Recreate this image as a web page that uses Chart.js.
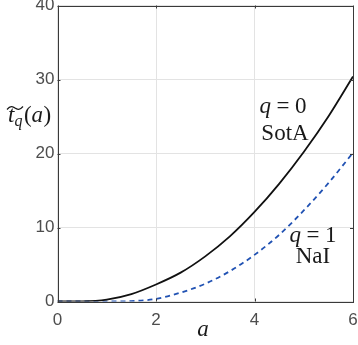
<!DOCTYPE html>
<html>
<head>
<meta charset="utf-8">
<script src="https://cdn.jsdelivr.net/npm/chart.js@4.4.1/dist/chart.umd.min.js"></script>
<style>
html,body{margin:0;padding:0;background:#fff;}
#wrap{width:358px;height:345px;position:relative;}
</style>
</head>
<body>
<div id="wrap"><canvas id="c" width="358" height="345"></canvas></div>
<script>
const aValues = [0, 0.5, 1, 1.5, 2, 2.5, 3, 3.5, 4, 4.5, 5, 5.5, 6];
const sotaValues = [0, 0.02, 0.25, 1.0, 2.3, 3.9, 6.1, 8.8, 12.1, 15.9, 20.2, 25.0, 30.4];
const naiValues = [0, 0, 0, 0.05, 0.35, 1.2, 2.4, 4.1, 6.3, 9.0, 12.3, 16.0, 20.1];
const xTicks = [0, 2, 4, 6];
const yTicks = [0, 10, 20, 30, 40];

const tickFont = {family: "'Liberation Sans', Arial, sans-serif", size: 17};
const tickColor = '#4d4d4d';

const boxPlugin = {
  id: 'box',
  afterDraw(chart) {
    const ctx = chart.ctx;
    const a = chart.chartArea;
    const xs = chart.scales.x, ys = chart.scales.y;
    ctx.save();
    ctx.strokeStyle = '#3a3a3a';
    ctx.lineWidth = 1;
    ctx.strokeRect(Math.round(a.left) + 0.5, Math.round(a.top) + 0.5,
      Math.round(a.right) - Math.round(a.left), Math.round(a.bottom) - Math.round(a.top));
    const L = 3;
    ctx.beginPath();
    xTicks.forEach(v => {
      const px = Math.round(xs.getPixelForValue(v)) + 0.5;
      ctx.moveTo(px, a.bottom); ctx.lineTo(px, a.bottom - L);
      ctx.moveTo(px, a.top); ctx.lineTo(px, a.top + L);
    });
    yTicks.forEach(v => {
      const py = Math.round(ys.getPixelForValue(v)) + 0.5;
      ctx.moveTo(a.left, py); ctx.lineTo(a.left + L, py);
      ctx.moveTo(a.right, py); ctx.lineTo(a.right - L, py);
    });
    ctx.stroke();

    const serif = "'Liberation Serif', 'DejaVu Serif', serif";
    ctx.fillStyle = '#1a1a1a';
    ctx.textBaseline = 'alphabetic';
    function mathLine(parts, cx, by, size) {
      let w = 0;
      parts.forEach(p => { ctx.font = (p.i ? 'italic ' : '') + size + 'px ' + serif; w += ctx.measureText(p.t).width + (p.g || 0); });
      let x = cx - w / 2;
      parts.forEach(p => {
        ctx.font = (p.i ? 'italic ' : '') + size + 'px ' + serif;
        ctx.textAlign = 'left';
        ctx.fillText(p.t, x, by);
        x += ctx.measureText(p.t).width + (p.g || 0);
      });
    }
    mathLine([{t:'q', i:true, g:5.5}, {t:'=', g:5.5}, {t:'0'}], 283, 113, 23);
    mathLine([{t:'SotA'}], 285, 140, 23);
    mathLine([{t:'q', i:true, g:5.5}, {t:'=', g:5.5}, {t:'1'}], 313, 242, 23);
    mathLine([{t:'NaI'}], 313, 263, 23);

    mathLine([{t:'a', i:true}], 203, 336, 23);

    ctx.textAlign = 'left';
    ctx.font = 'italic 23px ' + serif;
    let x = 8;
    ctx.fillText('t', x, 122);
    x += ctx.measureText('t').width;
    ctx.font = 'italic 16px ' + serif;
    ctx.fillText('q', x, 126);
    x += ctx.measureText('q').width + 1.5;
    ctx.font = '23px ' + serif;
    ctx.fillText('(', x, 122);
    x += ctx.measureText('(').width;
    ctx.font = 'italic 23px ' + serif;
    ctx.fillText('a', x, 122);
    x += ctx.measureText('a').width + 0.5;
    ctx.font = '23px ' + serif;
    ctx.fillText(')', x, 122);
    ctx.beginPath();
    ctx.lineWidth = 1.2;
    ctx.strokeStyle = '#1a1a1a';
    const tx0 = 7, tx1 = 23, ty = 108;
    ctx.moveTo(tx0, ty + 1.5);
    ctx.bezierCurveTo(tx0 + 4, ty - 3, tx0 + 6, ty - 1, (tx0 + tx1) / 2, ty);
    ctx.bezierCurveTo(tx1 - 6, ty + 1, tx1 - 4, ty + 3, tx1, ty - 1.5);
    ctx.stroke();
    ctx.restore();
  }
};

new Chart(document.getElementById('c'), {
  type: 'line',
  data: {
    datasets: [
      {
        data: aValues.map((a, i) => ({x: a, y: sotaValues[i]})),
        borderColor: '#111111', borderWidth: 1.8, pointRadius: 0,
        cubicInterpolationMode: 'monotone', fill: false
      },
      {
        data: aValues.map((a, i) => ({x: a, y: naiValues[i]})),
        borderColor: '#2152b3', borderWidth: 1.8, pointRadius: 0, borderDash: [5, 4],
        cubicInterpolationMode: 'monotone', fill: false
      }
    ]
  },
  plugins: [boxPlugin],
  options: {
    responsive: false,
    animation: false,
    events: [],
    layout: {padding: {left: 0, right: 5, top: 5.5, bottom: 0}},
    plugins: {legend: {display: false}, tooltip: {enabled: false}},
    scales: {
      x: {
        type: 'linear', min: 0, max: 6,
        afterBuildTicks(s) { s.ticks = xTicks.map(v => ({value: v})); },
        afterFit(s) { s.height = 43.5; s.paddingLeft = 0; s.paddingRight = 0; },
        grid: {color: '#e3e3e3', drawTicks: false},
        border: {display: false},
        ticks: {font: tickFont, color: tickColor, padding: 9, maxRotation: 0}
      },
      y: {
        type: 'linear', min: 0, max: 40,
        afterBuildTicks(s) { s.ticks = yTicks.map(v => ({value: v})); },
        afterFit(s) { s.width = 57.5; s.paddingTop = 0; s.paddingBottom = 0; },
        grid: {color: '#e3e3e3', drawTicks: false},
        border: {display: false},
        ticks: {font: tickFont, color: tickColor, padding: 3}
      }
    }
  }
});
</script>
</body>
</html>
